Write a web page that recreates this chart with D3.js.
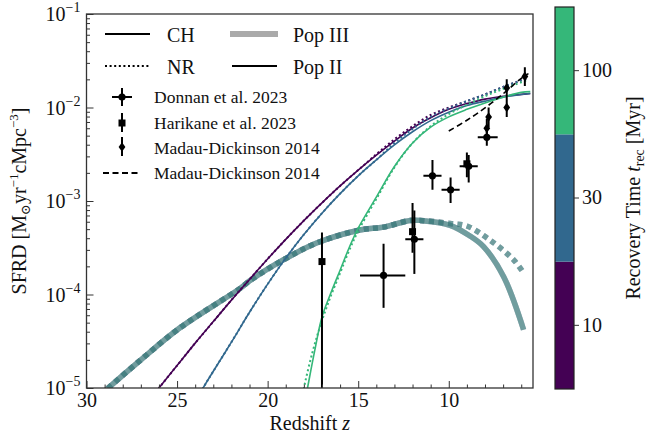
<!DOCTYPE html>
<html>
<head>
<meta charset="utf-8">
<script src="https://cdn.jsdelivr.net/npm/d3@7"></script>
<style>
body{margin:0;background:#fff;}
text{font-family:"Liberation Serif","DejaVu Serif",serif;fill:#111;}
</style>
</head>
<body>
<script>
// ---- data (redshift, SFRD) ----
var recTimes = ["10", "30", "100"];
var recColors = ["#440154", "#31688e", "#35b779"];

// Pop II, CH (solid)
var zCH = [
  [26.5, 26, 25, 24, 23, 22, 21, 20, 19, 18, 17, 16, 15, 14, 13, 12, 11, 10, 9, 8, 7, 6, 5.5],
  [24, 23.5, 23, 22, 21, 20, 19, 18, 17, 16, 15, 14, 13, 12, 11, 10, 9, 8, 7, 6, 5.5],
  [18.1, 17.8, 17.4, 17.0, 16.5, 16, 15.5, 15, 14, 13, 12, 11, 10, 9, 8, 7, 6, 5.5]
];
var sfrdCH = [
  [7.6e-6, 1.0e-5, 1.74e-5, 3.02e-5, 5.13e-5, 8.71e-5, 1.45e-4, 2.40e-4, 3.89e-4, 6.17e-4, 9.55e-4, 1.45e-3, 2.14e-3, 3.09e-3, 4.37e-3, 6.03e-3, 7.76e-3, 9.55e-3, 1.10e-2, 1.23e-2, 1.32e-2, 1.38e-2, 1.41e-2],
  [7.2e-6, 1.05e-5, 1.51e-5, 3.09e-5, 6.46e-5, 1.29e-4, 2.45e-4, 4.37e-4, 7.41e-4, 1.20e-3, 1.86e-3, 2.75e-3, 3.98e-3, 5.50e-3, 7.24e-3, 8.91e-3, 1.05e-2, 1.17e-2, 1.29e-2, 1.38e-2, 1.41e-2],
  [5.0e-6, 1.0e-5, 2.51e-5, 5.75e-5, 1.05e-4, 1.82e-4, 3.16e-4, 5.13e-4, 1.10e-3, 2.34e-3, 4.17e-3, 6.17e-3, 7.94e-3, 9.55e-3, 1.12e-2, 1.29e-2, 1.45e-2, 1.48e-2]
];

// Pop II, NR (dotted)
var zNR = [
  [26.5, 26, 25, 24, 23, 22, 21, 20, 19, 18, 17, 16, 15, 14, 13, 12, 11, 10, 9, 8, 7, 6, 5.6],
  [24, 23.5, 23, 22, 21, 20, 19, 18, 17, 16, 15, 14, 13, 12, 11, 10, 9, 8, 7, 6, 5.6],
  [18.3, 18.0, 17.5, 17.0, 16.5, 16, 15.5, 15, 14, 13, 12, 11, 10, 9, 8, 7, 6, 5.6]
];
var sfrdNR = [
  [7.6e-6, 1.0e-5, 1.74e-5, 3.02e-5, 5.13e-5, 8.71e-5, 1.45e-4, 2.40e-4, 3.89e-4, 6.17e-4, 9.55e-4, 1.45e-3, 2.14e-3, 3.16e-3, 4.57e-3, 6.31e-3, 8.32e-3, 1.0e-2, 1.17e-2, 1.38e-2, 1.66e-2, 1.95e-2, 2.07e-2],
  [7.2e-6, 1.05e-5, 1.51e-5, 3.09e-5, 6.46e-5, 1.29e-4, 2.45e-4, 4.37e-4, 7.41e-4, 1.20e-3, 1.86e-3, 2.75e-3, 4.17e-3, 5.89e-3, 7.94e-3, 9.77e-3, 1.17e-2, 1.38e-2, 1.66e-2, 1.95e-2, 2.07e-2],
  [5.0e-6, 1.0e-5, 2.51e-5, 5.25e-5, 9.77e-5, 1.70e-4, 2.95e-4, 4.79e-4, 1.05e-3, 2.29e-3, 4.17e-3, 6.31e-3, 8.51e-3, 1.07e-2, 1.32e-2, 1.58e-2, 1.86e-2, 2.0e-2]
];

// Pop III (thick), same for every recovery time
var zP3CH = [29.2, 28.8, 27.0, 24.84, 21.5, 20.97, 19.14, 17.3, 14.9, 13.6, 12.13, 11.57, 9.92, 8.81, 8.08, 6.97, 5.87];
var sfrdP3CH = [8.5e-6, 1.0e-5, 2.0e-5, 4.4e-5, 1.17e-4, 1.41e-4, 2.34e-4, 3.55e-4, 4.9e-4, 5.25e-4, 6.2e-4, 6.2e-4, 5.5e-4, 4.2e-4, 3.25e-4, 1.55e-4, 4.2e-5];
var zP3NR = [29.2, 28.8, 27.0, 24.84, 21.5, 20.97, 19.14, 17.3, 14.9, 13.6, 12.13, 11.57, 9.92, 9.0, 7.71, 6.42, 5.87];
var sfrdP3NR = [8.5e-6, 1.0e-5, 2.0e-5, 4.4e-5, 1.17e-4, 1.41e-4, 2.34e-4, 3.55e-4, 4.9e-4, 5.25e-4, 6.2e-4, 6.2e-4, 5.75e-4, 5.4e-4, 3.8e-4, 2.35e-4, 1.7e-4];

// Madau-Dickinson 2014 fit (dashed)
var zMDfit = [10.0, 9.0, 8.0, 7.0, 6.0, 5.6];
var sfrdMDfit = [5.6e-3, 7.3e-3, 9.9e-3, 1.4e-2, 2.05e-2, 2.3e-2];

// Donnan et al. 2023 (z, zlo, zhi, sfrd, lo, hi)
var donnanZ = [7.9, 8.9, 9.9, 10.9, 11.9, 13.6];
var donnanZlo = [7.3, 8.4, 9.4, 10.4, 11.4, 12.4];
var donnanZhi = [8.4, 9.4, 10.4, 11.4, 12.4, 14.9];
var donnanV = [4.8e-3, 2.35e-3, 1.32e-3, 1.86e-3, 3.9e-4, 1.6e-4];
var donnanLo = [3.9e-3, 1.58e-3, 9.5e-4, 1.32e-3, 1.66e-4, 7.2e-5];
var donnanHi = [6.0e-3, 3.1e-3, 1.78e-3, 2.75e-3, 7.9e-4, 3.5e-4];

// Harikane et al. 2023
var harikaneZ = [9.0, 12.0, 17.0];
var harikaneV = [2.5e-3, 4.7e-4, 2.25e-4];
var harikaneLo = [1.8e-3, 2.8e-4, 1e-7];
var harikaneHi = [3.3e-3, 9.5e-4, 4.6e-4];

// Madau-Dickinson 2014 points
var mdZ = [5.8, 6.8, 6.8, 7.8, 7.9];
var mdV = [2.15e-2, 1.62e-2, 1.0e-2, 7.9e-3, 6.0e-3];
var mdLo = [1.7e-2, 1.26e-2, 7.9e-3, 6.2e-3, 4.8e-3];
var mdHi = [2.7e-2, 2.0e-2, 1.26e-2, 1.0e-2, 7.6e-3];

var yTicks = [1e-5, 1e-4, 1e-3, 1e-2, 1e-1];
var yTickExp = ["\u22125", "\u22124", "\u22123", "\u22122", "\u22121"];
var xTicks = [30, 25, 20, 15, 10];

// ---- layout ----
var W = 651, H = 437;
var L = 86.5, R = 533, T = 14, B = 388;
var svg = d3.select("body").append("svg").attr("width", W).attr("height", H);

var x = d3.scaleLinear().domain([30, 5.35]).range([L, R]);
var y = d3.scaleLog().domain([1e-5, 1e-1]).range([B, T]);

svg.append("clipPath").attr("id", "clip")
  .append("rect").attr("x", L).attr("y", T).attr("width", R - L).attr("height", B - T);

var plot = svg.append("g").attr("clip-path", "url(#clip)");

function toPts(zs, vs){
  return zs.map(function(z, i){ return [z, vs[i]]; });
}
var line = d3.line()
  .x(function(d){ return x(d[0]); })
  .y(function(d){ return y(d[1]); })
  .curve(d3.curveCatmullRom.alpha(0.5));

// Pop III thick lines
recColors.forEach(function(c){
  plot.append("path").attr("d", line(toPts(zP3CH, sfrdP3CH)))
    .attr("fill", "none").attr("stroke", c).attr("stroke-opacity", 0.34).attr("stroke-width", 5.5);
});
recColors.forEach(function(c){
  plot.append("path").attr("d", line(toPts(zP3NR, sfrdP3NR)))
    .attr("fill", "none").attr("stroke", c).attr("stroke-opacity", 0.34).attr("stroke-width", 5.5)
    .attr("stroke-dasharray", "5,4.5");
});

// Pop II lines
for(var i = 0; i < 3; i++){
  plot.append("path").attr("d", line(toPts(zNR[i], sfrdNR[i])))
    .attr("fill", "none").attr("stroke", recColors[i]).attr("stroke-width", 2)
    .attr("stroke-dasharray", "2,2.6");
  plot.append("path").attr("d", line(toPts(zCH[i], sfrdCH[i])))
    .attr("fill", "none").attr("stroke", recColors[i]).attr("stroke-width", 1.6);
}

// MD14 fit
plot.append("path").attr("d", line(toPts(zMDfit, sfrdMDfit)))
  .attr("fill", "none").attr("stroke", "#000").attr("stroke-width", 1.6)
  .attr("stroke-dasharray", "6,3.5");

// error bars + markers
function vbar(z, lo, hi){
  plot.append("line").attr("x1", x(z)).attr("x2", x(z)).attr("y1", y(lo)).attr("y2", y(hi))
    .attr("stroke", "#000").attr("stroke-width", 2);
}
function hbar(zlo, zhi, v){
  plot.append("line").attr("x1", x(zlo)).attr("x2", x(zhi)).attr("y1", y(v)).attr("y2", y(v))
    .attr("stroke", "#000").attr("stroke-width", 2);
}
function marker(g, kind, cx, cy){
  if(kind == "o"){
    g.append("circle").attr("cx", cx).attr("cy", cy).attr("r", 3.6).attr("fill", "#000");
  }
  else if(kind == "s"){
    g.append("rect").attr("x", cx - 3.5).attr("y", cy - 3.5).attr("width", 7).attr("height", 7).attr("fill", "#000");
  }
  else{
    g.append("path").attr("d", "M" + cx + "," + (cy - 4.8) + "L" + (cx + 3.4) + "," + cy + "L" + cx + "," + (cy + 4.8) + "L" + (cx - 3.4) + "," + cy + "Z")
      .attr("fill", "#000");
  }
}

for(var i = 0; i < mdZ.length; i++){
  vbar(mdZ[i], mdLo[i], mdHi[i]);
  marker(plot, "d", x(mdZ[i]), y(mdV[i]));
}
for(var i = 0; i < harikaneZ.length; i++){
  vbar(harikaneZ[i], harikaneLo[i], harikaneHi[i]);
  marker(plot, "s", x(harikaneZ[i]), y(harikaneV[i]));
}
for(var i = 0; i < donnanZ.length; i++){
  vbar(donnanZ[i], donnanLo[i], donnanHi[i]);
  hbar(donnanZlo[i], donnanZhi[i], donnanV[i]);
  marker(plot, "o", x(donnanZ[i]), y(donnanV[i]));
}

// ---- axes ----
var xMinor = d3.range(6, 31).filter(function(v){ return v % 5 != 0; });
var ax = svg.append("g").attr("transform", "translate(0," + B + ")")
  .call(d3.axisBottom(x).tickValues(xTicks).tickSize(-7).tickPadding(5).tickFormat(d3.format("d")));
svg.append("g").attr("transform", "translate(0," + B + ")")
  .call(d3.axisBottom(x).tickValues(xMinor).tickSize(-3.5).tickFormat(""));

var yMinor = [];
for(var e = -5; e < -1; e++){
  for(var m = 2; m < 10; m++) yMinor.push(m * Math.pow(10, e));
}
svg.append("g").attr("transform", "translate(" + L + ",0)")
  .call(d3.axisLeft(y).tickValues(yTicks).tickSize(-7).tickFormat(""));
svg.append("g").attr("transform", "translate(" + L + ",0)")
  .call(d3.axisLeft(y).tickValues(yMinor).tickSize(-3.5).tickFormat(""));

svg.selectAll(".domain").remove();
svg.selectAll(".tick line").attr("stroke", "#333").attr("stroke-width", 1);
ax.selectAll(".tick text").attr("font-size", 20).attr("font-family", "Liberation Serif").attr("fill", "#222");

yTicks.forEach(function(v, i){
  var t = svg.append("text").attr("x", L - 6).attr("y", y(v) + 7).attr("text-anchor", "end")
    .attr("font-size", 20).attr("fill", "#222");
  t.append("tspan").text("10");
  t.append("tspan").attr("font-size", 14).attr("dy", -9).text(yTickExp[i]);
});

svg.append("rect").attr("x", L).attr("y", T).attr("width", R - L).attr("height", B - T)
  .attr("fill", "none").attr("stroke", "#333").attr("stroke-width", 1.3);

// axis labels
var xl = svg.append("text").attr("x", (L + R) / 2).attr("y", 430).attr("text-anchor", "middle")
  .attr("font-size", 20);
xl.append("tspan").text("Redshift ");
xl.append("tspan").attr("font-style", "italic").text("z");

var yl = svg.append("text").attr("transform", "translate(26," + ((T + B) / 2) + ") rotate(-90)")
  .attr("text-anchor", "middle").attr("font-size", 20);
yl.append("tspan").text("SFRD [M");
yl.append("tspan").attr("font-size", 13).attr("dy", 4).text("\u2299");
yl.append("tspan").attr("dy", -4).text("yr");
yl.append("tspan").attr("font-size", 13).attr("dy", -8).text("\u22121");
yl.append("tspan").attr("dy", 8).text("cMpc");
yl.append("tspan").attr("font-size", 13).attr("dy", -8).text("\u22123");
yl.append("tspan").attr("dy", 8).text("]");

// ---- colorbar ----
var cbL = 555, cbR = 574, cbT = 7, cbB = 389;
var cb = d3.scaleBand().domain(recTimes).range([cbB, cbT]);
svg.selectAll(".cbseg").data(recTimes).enter().append("rect")
  .attr("x", cbL).attr("width", cbR - cbL)
  .attr("y", function(d){ return cb(d); })
  .attr("height", cb.bandwidth())
  .attr("fill", function(d, i){ return recColors[i]; });
svg.append("rect").attr("x", cbL).attr("y", cbT).attr("width", cbR - cbL).attr("height", cbB - cbT)
  .attr("fill", "none").attr("stroke", "#222").attr("stroke-width", 1.2);
var cax = svg.append("g").attr("transform", "translate(" + cbR + ",0)")
  .call(d3.axisRight(cb).tickSize(5).tickPadding(3));
cax.select(".domain").remove();
cax.selectAll(".tick line").attr("stroke", "#333");
cax.selectAll(".tick text").attr("font-size", 20).attr("font-family", "Liberation Serif").attr("fill", "#222");

var cl = svg.append("text").attr("transform", "translate(640," + ((cbT + cbB) / 2) + ") rotate(-90)")
  .attr("text-anchor", "middle").attr("font-size", 20);
cl.append("tspan").text("Recovery Time ");
cl.append("tspan").attr("font-style", "italic").text("t");
cl.append("tspan").attr("font-size", 14).attr("dy", 4).text("rec");
cl.append("tspan").attr("dy", -4).text(" [Myr]");

// ---- legend ----
var lg = svg.append("g");
function legLine(x1, x2, yy, col, w, dash){
  var l = lg.append("line").attr("x1", x1).attr("x2", x2).attr("y1", yy).attr("y2", yy)
    .attr("stroke", col).attr("stroke-width", w);
  if(dash) l.attr("stroke-dasharray", dash);
}
function legText(tx, yy, s, size){
  lg.append("text").attr("x", tx).attr("y", yy).attr("dominant-baseline", "central")
    .attr("font-size", size).text(s);
}
legLine(105, 150, 34, "#000", 1.8);
legText(167, 35, "CH", 20);
legLine(105, 150, 66, "#000", 2, "2,2.6");
legText(167, 67, "NR", 20);
legLine(230, 278, 34, "#aaa", 6);
legText(293, 35, "Pop III", 20);
legLine(232, 277, 66, "#000", 1.8);
legText(293, 67, "Pop II", 20);

lg.append("line").attr("x1", 112).attr("x2", 132).attr("y1", 97).attr("y2", 97).attr("stroke", "#000").attr("stroke-width", 2);
lg.append("line").attr("x1", 122).attr("x2", 122).attr("y1", 88).attr("y2", 106).attr("stroke", "#000").attr("stroke-width", 2);
marker(lg, "o", 122, 97);
legText(154, 97, "Donnan et al. 2023", 17.5);

lg.append("line").attr("x1", 122).attr("x2", 122).attr("y1", 113).attr("y2", 132).attr("stroke", "#000").attr("stroke-width", 2);
marker(lg, "s", 122, 123);
legText(154, 123, "Harikane et al. 2023", 17.5);

lg.append("line").attr("x1", 122).attr("x2", 122).attr("y1", 137).attr("y2", 156).attr("stroke", "#000").attr("stroke-width", 2);
marker(lg, "d", 122, 147);
legText(154, 148, "Madau-Dickinson 2014", 17.5);

legLine(103, 140, 173, "#000", 1.8, "6,3.5");
legText(154, 173, "Madau-Dickinson 2014", 17.5);
</script>
</body>
</html>
